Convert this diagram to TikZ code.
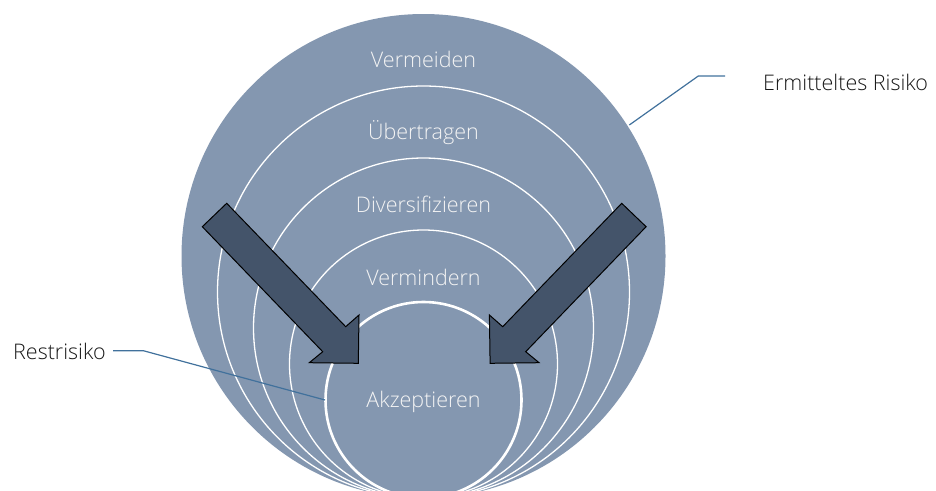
\documentclass[tikz,border=0pt]{standalone}
\usepackage{fontspec}
\setmainfont{Open Sans}
\newfontfamily\lightfont{Open Sans Light}
\definecolor{ringfill}{HTML}{8497B0}
\definecolor{arrowfill}{HTML}{44546A}
\definecolor{leadercol}{HTML}{41719C}
\definecolor{intextcol}{HTML}{F4F4F4}
\begin{document}
\begin{tikzpicture}[x=1pt,y=-1pt,
  ringline/.style={draw=white,line width=1.3pt},
  innerring/.style={draw=white,line width=2.6pt},
  intext/.style={text=intextcol,font=\lightfont\fontsize{21.5}{25}\selectfont,inner sep=0pt,anchor=base},
  outtext/.style={text=black!90,font=\lightfont\fontsize{21.5}{25}\selectfont,inner sep=0pt,anchor=base west},
  bigarrow/.style={fill=arrowfill,draw=black,line width=1pt,line join=miter},
  leader/.style={draw=leadercol,line width=1.2pt}]
\useasboundingbox (0,0) rectangle (936,490);
\clip (0,0) rectangle (936,490);
% circles, all tangent at the bottom (y=498)
\fill[ringfill] (423.5,256) circle[radius=242pt];
\path[ringline] (423.5,292) circle[radius=206pt];
\path[ringline] (423.5,328) circle[radius=170pt];
\path[ringline] (423.5,364) circle[radius=134pt];
\path[innerring] (423.5,400) circle[radius=98pt];
% labels in rings
\node[intext] (vermeiden) at (423.5,67.5) {Vermeiden};
\node[intext] (uebertragen) at (423.5,139.5) {Übertragen};
\node[intext] (divers) at (423.5,212) {Diversifizieren};
\node[intext] (vermindern) at (423.5,285.5) {Vermindern};
\node[intext] (akzept) at (423.5,407) {Akzeptieren};
% arrows
\path[bigarrow] (226.7,203.3) -- (202.3,226.7) -- (322.7,351.7) -- (309.3,362.7)
  -- (358.3,363.3) -- (359,315) -- (345.7,326.7) -- cycle;
\path[bigarrow] (621.7,203.3) -- (646.1,226.7) -- (525.7,351.7) -- (539.1,362.7)
  -- (490.1,363.3) -- (489.4,315) -- (502.7,326.7) -- cycle;
% outer labels and leaders
\node[outtext] (ermittelt) at (763,90) {Ermitteltes Risiko};
\coordinate (e1) at (629.3,125);
\coordinate (e2) at (698.3,76);
\coordinate (e3) at (725,76);
\path[leader] (e1) -- (e2) -- (e3);
\node[outtext] (rest) at (13,359.3) {Restrisiko};
\coordinate (r1) at (113,350.7);
\coordinate (r2) at (143.3,350.7);
\coordinate (r3) at (325,400);
\path[leader] (r1) -- (r2) -- (r3);
\end{tikzpicture}
\end{document}
